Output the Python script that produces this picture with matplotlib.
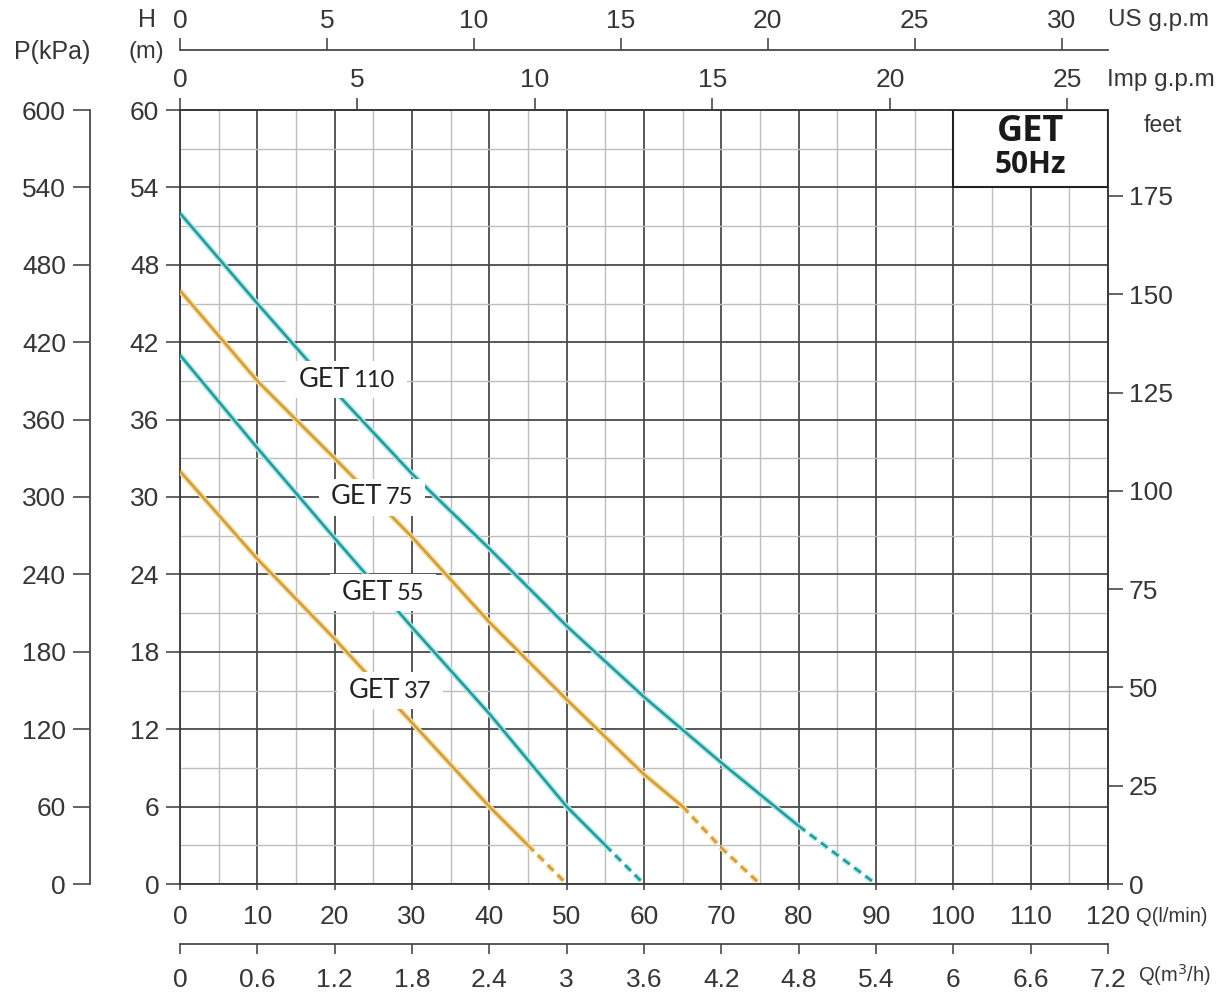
import numpy as np
import matplotlib
matplotlib.use("Agg")
import matplotlib.pyplot as plt
from matplotlib.patches import Rectangle
from matplotlib.transforms import Bbox

# ---------------- data ----------------
q_get110 = [0, 10, 20, 30, 40, 50, 60, 70, 80, 90]
h_get110 = [52, 45, 38.2, 31.8, 26, 20, 14.5, 9.4, 4.5, 0]
q_get75 = [0, 10, 20, 30, 40, 50, 60, 65, 70, 75]
h_get75 = [46, 39, 33, 26.9, 20.3, 14.3, 8.5, 6, 2.8, 0]
q_get55 = [0, 10, 20, 30, 40, 50, 55, 60]
h_get55 = [41, 33.8, 26.8, 19.9, 13.2, 6, 3, 0]
q_get37 = [0, 10, 20, 30, 40, 45, 50]
h_get37 = [32, 25.2, 19, 12.5, 6, 3, 0]
dash_from = [80, 65, 55, 45]          # Q where the curve turns dashed
model_numbers = ["110", "75", "55", "37"]

q_ticks = list(range(0, 121, 10))
h_ticks = list(range(0, 61, 6))
p_ticks = list(range(0, 601, 60))
ft_ticks = list(range(0, 176, 25))
imp_ticks = list(range(0, 26, 5))
us_ticks = list(range(0, 31, 5))
m3h_labels = ["0", "0.6", "1.2", "1.8", "2.4", "3", "3.6", "4.2", "4.8", "5.4", "6", "6.6", "7.2"]

L_PER_IMP = 4.59   # as drawn on the chart
L_PER_US = 3.8
M_PER_FT = 0.3048

# ---------------- style ----------------
plt.rcParams["font.family"] = ["Liberation Sans", "DejaVu Sans"]
TXT = "#363636"
TEAL, TEAL_HALO = "#2a9794", "#a6e9ee"
ORANGE, ORANGE_HALO = "#d19c3f", "#f7dd9c"
TICK_FS = 19

W, H = 1228, 992
fig = plt.figure(figsize=(W / 100, H / 100), dpi=100)
x0, x1, y0, y1 = 180, 1108, 110, 884
ax = fig.add_axes([x0 / W, 1 - y1 / H, (x1 - x0) / W, (y1 - y0) / H])
ax.set_xlim(0, 120)
ax.set_ylim(0, 60)

# grid
ax.set_xticks(q_ticks)
ax.set_xticks(np.arange(5, 120, 10), minor=True)
ax.set_yticks(h_ticks)
ax.set_yticks(np.arange(3, 60, 6), minor=True)
ax.grid(which="major", color="#4a4a4a", lw=1.3)
ax.grid(which="minor", color="#bdbdbd", lw=1.0)
ax.tick_params(which="minor", length=0)
ax.tick_params(axis="x", which="major", direction="out", length=4, width=1.2, color="#4a4a4a",
               pad=11, labelsize=TICK_FS, labelcolor=TXT)
ax.tick_params(axis="y", which="major", direction="out", length=10, width=1.2, color="#4a4a4a",
               pad=5, labelsize=TICK_FS, labelcolor=TXT)
for s in ax.spines.values():
    s.set_color("#3a3a3a")
    s.set_linewidth(1.3)

# curves
curves = [(q_get110, h_get110, TEAL, TEAL_HALO),
          (q_get75, h_get75, ORANGE, ORANGE_HALO),
          (q_get55, h_get55, TEAL, TEAL_HALO),
          (q_get37, h_get37, ORANGE, ORANGE_HALO)]
for (q, h, core, halo), qd in zip(curves, dash_from):
    q = np.array(q, float)
    h = np.array(h, float)
    solid = q <= qd
    dashed = q >= qd
    ax.plot(q[solid], h[solid], color=halo, lw=4.0, zorder=3, solid_capstyle="butt")
    ax.plot(q[solid], h[solid], color=core, lw=1.8, zorder=3.1, solid_capstyle="butt")
    ax.plot(q[dashed], h[dashed], color=halo, lw=4.0, zorder=3,
            linestyle=(0, (6.0 / 4.0, 4.0 / 4.0)), dash_capstyle="butt")
    ax.plot(q[dashed], h[dashed], color=core, lw=1.8, zorder=3.1,
            linestyle=(0, (6.0 / 1.8, 4.0 / 1.8)), dash_capstyle="butt")

# curve labels
LBL_FONT = ["Lato", "DejaVu Sans"]
label_pos = [(15.3, 39.1), (19.5, 30.0), (20.9, 22.6), (21.8, 15.0)]
label_pairs = []
for num, (lq, lh) in zip(model_numbers, label_pos):
    t = ax.text(lq, lh, "GET", fontsize=19.5, family=LBL_FONT, color="#222222",
                ha="left", va="center", zorder=5)
    n = ax.annotate(num, xy=(1, 0), xycoords=t, xytext=(2.5, 0.9), textcoords="offset points",
                    fontsize=17, family=LBL_FONT, color="#222222",
                    ha="left", va="bottom", zorder=5)
    label_pairs.append((t, n))

# title box
ax.add_patch(Rectangle((100, 54), 20, 6, fc="white", ec="#222222", lw=1.5, zorder=4))
ax.text(110, 58.3, "GET", fontsize=26, fontweight="bold", family=["Open Sans", "DejaVu Sans"],
        ha="center", va="center", color="#1a1a1a", zorder=5)
ax.text(110, 55.75, "50Hz", fontsize=21.5, fontweight="bold", family=["Open Sans", "DejaVu Sans"],
        ha="center", va="center", color="#1a1a1a", zorder=5)

# secondary axes
def style_sec(sec, length, pad, size=TICK_FS):
    sec.tick_params(direction="out", length=length, width=1.2, color="#4a4a4a",
                    pad=pad, labelsize=size, labelcolor=TXT)
    for s in sec.spines.values():
        s.set_color("#4a4a4a")
        s.set_linewidth(1.3)

imp = ax.secondary_xaxis("top", functions=(lambda q: q / L_PER_IMP, lambda g: g * L_PER_IMP))
imp.set_xticks(imp_ticks)
style_sec(imp, 9, 4)

us = ax.secondary_xaxis(1.0775, functions=(lambda q: q / L_PER_US, lambda g: g * L_PER_US))
us.set_xticks(us_ticks)
style_sec(us, 9, 3)

m3h = ax.secondary_xaxis(-0.0775, functions=(lambda q: q * 0.06, lambda m: m / 0.06))
m3h.set_xticks([float(v) for v in m3h_labels], labels=m3h_labels)
style_sec(m3h, 7, 10)

pk = ax.secondary_yaxis(-0.0975, functions=(lambda h: h * 10, lambda p: p / 10))
pk.set_yticks(p_ticks)
style_sec(pk, 12, 5)

ft = ax.secondary_yaxis("right", functions=(lambda h: h / M_PER_FT, lambda f: f * M_PER_FT))
ft.set_yticks(ft_ticks)
style_sec(ft, 11, 4)

# axis captions
def ftext(x, y, s, size, ha="center"):
    fig.text(x / W, 1 - y / H, s, fontsize=size, ha=ha, va="center", color=TXT)

ftext(147, 20, "H", 18)
ftext(146, 52, "(m)", 17)
ftext(52, 52, "P(kPa)", 18)
ftext(1108, 20, "US g.p.m", 17.5, ha="left")
ftext(1107, 80, "Imp g.p.m", 17.5, ha="left")
ftext(1163, 126, "feet", 16.5)
ftext(1136, 916, "Q(l/min)", 14.5, ha="left")
ftext(1138, 975, "Q(m$^3$/h)", 14.5, ha="left")

# white backgrounds behind the curve labels (computed from rendered text extents)
fig.canvas.draw()
renderer = fig.canvas.get_renderer()
inv = ax.transData.inverted()
for t, n in label_pairs:
    bb = Bbox.union([t.get_window_extent(renderer), n.get_window_extent(renderer)])
    bb = Bbox.from_extents(bb.x0 - 12, bb.y0 - 6, bb.x1 + 12, bb.y1 + 6)
    (dx0, dy0), (dx1, dy1) = inv.transform([[bb.x0, bb.y0], [bb.x1, bb.y1]])
    ax.add_patch(Rectangle((dx0, dy0), dx1 - dx0, dy1 - dy0, fc="white", ec="none", zorder=4.5))

fig.savefig("out.png", dpi=100, facecolor="white")
